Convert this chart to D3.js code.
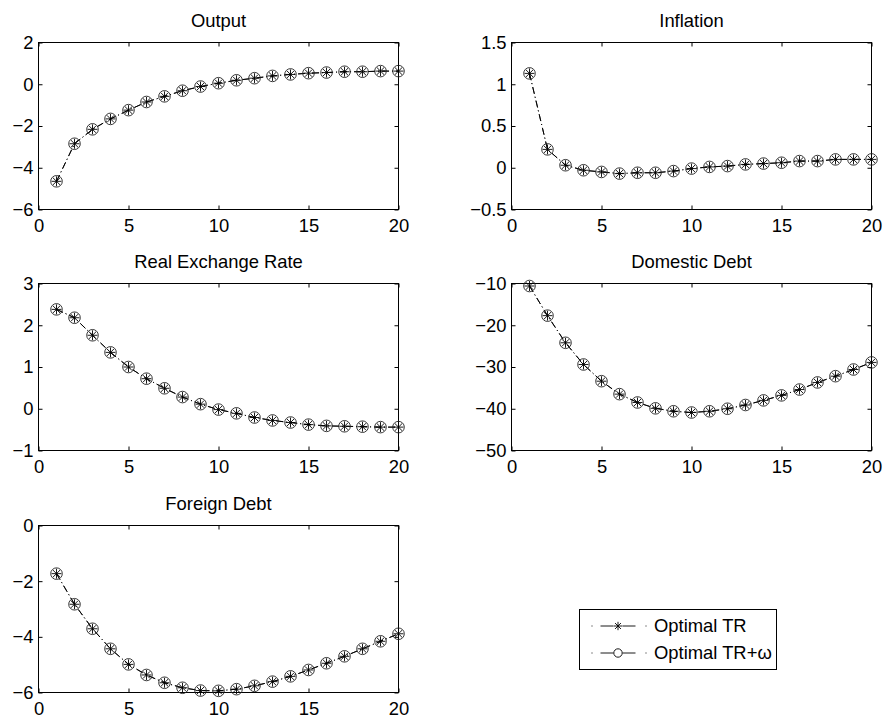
<!DOCTYPE html>
<html><head><meta charset="utf-8">
<script src="https://cdn.jsdelivr.net/npm/d3@7"></script>
<style>
body{margin:0;background:#fff}
svg{display:block}
text{font-family:"Liberation Sans",Arial,Helvetica,sans-serif;fill:#000}
</style>
</head><body>
<svg id="chart" width="887" height="720"></svg>
<script>
// ---------- data ----------
const periods = [1,2,3,4,5,6,7,8,9,10,11,12,13,14,15,16,17,18,19,20];
const xTicks = [0,5,10,15,20];
const seriesNames = ["Optimal TR","Optimal TR+\u03C9"];
const titles = ["Output","Inflation","Real Exchange Rate","Domestic Debt","Foreign Debt"];

const outputTR  = [-4.65,-2.85,-2.16,-1.66,-1.24,-0.85,-0.58,-0.31,-0.11,0.05,0.19,0.29,0.40,0.47,0.53,0.56,0.60,0.60,0.63,0.63];
const outputTRw = [-4.65,-2.85,-2.16,-1.66,-1.24,-0.85,-0.58,-0.31,-0.11,0.05,0.19,0.29,0.40,0.47,0.53,0.56,0.60,0.60,0.63,0.63];
const outputTicks = [-6,-4,-2,0,2];

const inflTR  = [1.13,0.22,0.03,-0.03,-0.05,-0.07,-0.06,-0.06,-0.04,-0.01,0.01,0.02,0.04,0.05,0.06,0.08,0.08,0.10,0.10,0.10];
const inflTRw = [1.13,0.22,0.03,-0.03,-0.05,-0.07,-0.06,-0.06,-0.04,-0.01,0.01,0.02,0.04,0.05,0.06,0.08,0.08,0.10,0.10,0.10];
const inflTicks = [-0.5,0,0.5,1,1.5];

const rerTR  = [2.38,2.18,1.76,1.35,1.00,0.72,0.49,0.28,0.11,-0.02,-0.11,-0.21,-0.28,-0.33,-0.38,-0.41,-0.42,-0.43,-0.44,-0.44];
const rerTRw = [2.38,2.18,1.76,1.35,1.00,0.72,0.49,0.28,0.11,-0.02,-0.11,-0.21,-0.28,-0.33,-0.38,-0.41,-0.42,-0.43,-0.44,-0.44];
const rerTicks = [-1,0,1,2,3];

const domTR  = [-10.6,-17.7,-24.2,-29.4,-33.4,-36.5,-38.5,-39.9,-40.6,-40.9,-40.6,-40.0,-39.1,-38.0,-36.8,-35.4,-33.7,-32.2,-30.6,-28.9];
const domTRw = [-10.6,-17.7,-24.2,-29.4,-33.4,-36.5,-38.5,-39.9,-40.6,-40.9,-40.6,-40.0,-39.1,-38.0,-36.8,-35.4,-33.7,-32.2,-30.6,-28.9];
const domTicks = [-50,-40,-30,-20,-10];

const forTR  = [-1.73,-2.83,-3.71,-4.43,-4.99,-5.37,-5.65,-5.83,-5.93,-5.94,-5.88,-5.76,-5.61,-5.42,-5.19,-4.95,-4.70,-4.43,-4.16,-3.89];
const forTRw = [-1.73,-2.83,-3.71,-4.43,-4.99,-5.37,-5.65,-5.83,-5.93,-5.94,-5.88,-5.76,-5.61,-5.42,-5.19,-4.95,-4.70,-4.43,-4.16,-3.89];
const forTicks = [-6,-4,-2,0];

const panelSeries = [[outputTR,outputTRw],[inflTR,inflTRw],[rerTR,rerTRw],[domTR,domTRw],[forTR,forTRw]];
const panelTicks = [outputTicks,inflTicks,rerTicks,domTicks,forTicks];

// ---------- layout ----------
const colLeft = [38, 511];
const rowTop = [42, 283, 525];
const W = 360, H = 167;
const FS = "18.4px";
const dash = "7,3,1,3";
const fmt = v => String(v).replace("-", "\u2212");

const svg = d3.select("#chart");

function asterisk(g, cx, cy, r) {
  const d = r * Math.SQRT1_2;
  const p = `M${cx-r},${cy}L${cx+r},${cy}M${cx},${cy-r}L${cx},${cy+r}` +
            `M${cx-d},${cy-d}L${cx+d},${cy+d}M${cx-d},${cy+d}L${cx+d},${cy-d}`;
  g.append("path").attr("d", p).attr("stroke","#000").attr("stroke-width",0.9).attr("fill","none");
}

titles.forEach((title, i) => {
  const left = colLeft[i % 2], top = rowTop[Math.floor(i / 2)];
  const ticks = panelTicks[i];
  const x = d3.scaleLinear().domain([0, 20]).range([0, W]);
  const y = d3.scaleLinear().domain([ticks[0], ticks[ticks.length-1]]).range([H, 0]);
  const g = svg.append("g").attr("transform", `translate(${left + 0.5},${top + 0.5})`);

  const ax = [
    {a: d3.axisBottom(x).tickValues(xTicks).tickFormat(d => d), t: `translate(0,${H})`},
    {a: d3.axisTop(x).tickValues(xTicks).tickFormat(""), t: `translate(0,0)`},
    {a: d3.axisLeft(y).tickValues(ticks).tickFormat(fmt), t: `translate(0,0)`},
    {a: d3.axisRight(y).tickValues(ticks).tickFormat(""), t: `translate(${W},0)`}
  ];
  ax.forEach((o, k) => {
    o.a.tickSizeInner(-4).tickSizeOuter(0).tickPadding(k === 0 ? 9 : 5);
    const ag = g.append("g").attr("transform", o.t).call(o.a);
    ag.select(".domain").remove();
    ag.selectAll("line").attr("stroke", "#000").attr("stroke-width", 1);
    ag.selectAll("text").style("font-size", FS).attr("fill", "#000")
      .style("font-family", '"Liberation Sans",Arial,Helvetica,sans-serif');
  });
  g.append("rect").attr("width", W).attr("height", H)
    .attr("fill", "none").attr("stroke", "#000").attr("stroke-width", 1);

  g.append("text").attr("x", W / 2).attr("y", -15.5).attr("text-anchor", "middle")
    .style("font-size", FS).text(title);

  const line = d3.line().x((d, j) => x(periods[j])).y(d => y(d));
  const [tr, trw] = panelSeries[i];

  [tr, trw].forEach(s => {
    g.append("path").datum(s).attr("d", line).attr("fill", "none")
      .attr("stroke", "#000").attr("stroke-width", 0.9).attr("stroke-dasharray", dash);
  });
  const mg = g.append("g");
  tr.forEach((v, j) => asterisk(mg, x(periods[j]), y(v), 5));
  mg.selectAll("circle").data(trw).join("circle")
    .attr("cx", (d, j) => x(periods[j])).attr("cy", d => y(d)).attr("r", 5.8)
    .attr("fill", "none").attr("stroke", "#222").attr("stroke-width", 0.9);
});

// ---------- legend ----------
const lg = svg.append("g").attr("transform", "translate(579.5,609.5)");
lg.append("rect").attr("width", 197).attr("height", 60).attr("fill", "#fff")
  .attr("stroke", "#000").attr("stroke-width", 1);
seriesNames.forEach((name, k) => {
  const cy = 16.5 + k * 27;
  lg.append("line").attr("x1", 12).attr("x2", 67).attr("y1", cy).attr("y2", cy)
    .attr("stroke", "#000").attr("stroke-width", 0.9).attr("stroke-dasharray", "1,8,13,9,13,10,1");
  if (k === 0) asterisk(lg, 38.5, cy, 4.2);
  else lg.append("circle").attr("cx", 38.5).attr("cy", cy).attr("r", 4.2)
    .attr("fill", "none").attr("stroke", "#000").attr("stroke-width", 0.9);
  lg.append("text").attr("x", 74.5).attr("y", cy).attr("dy", "0.35em")
    .style("font-size", FS).text(name);
});
</script>
</body></html>
